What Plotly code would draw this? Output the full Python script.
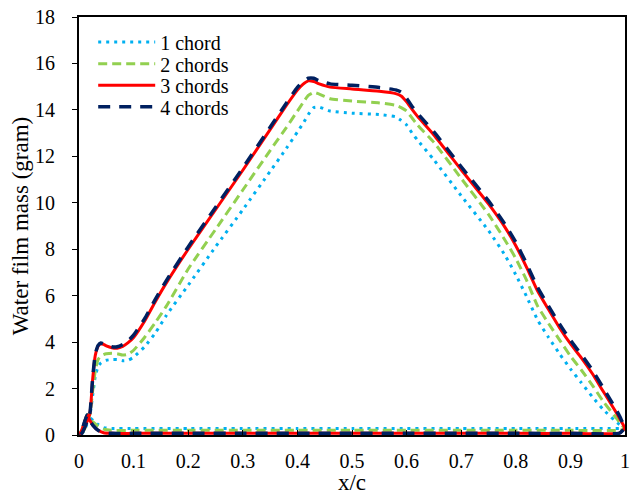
import plotly.graph_objects as go

# Shared chordwise stations for the upper branch of each loop
upper_x = [0, 0.005, 0.01, 0.015, 0.02, 0.025, 0.03, 0.035, 0.04, 0.045, 0.05, 0.06, 0.07, 0.08,
           0.09, 0.1, 0.12, 0.14, 0.16, 0.2, 0.25, 0.3, 0.35, 0.38, 0.4, 0.41, 0.42, 0.43, 0.44,
           0.46, 0.5, 0.55, 0.58, 0.59, 0.6, 0.61, 0.62, 0.65, 0.7, 0.75, 0.78, 0.8, 0.82, 0.84,
           0.86, 0.88, 0.9, 0.92, 0.94, 0.96, 0.98, 0.99, 1.0]

# Return branch (trailing edge back to leading edge)
lower_x = [1.0, 0.99, 0.9, 0.8, 0.7, 0.6, 0.5, 0.4, 0.3, 0.2, 0.1, 0.06, 0.045, 0.035, 0.026, 0.02,
           0.015, 0.01, 0.005, 0.0]

upper_1 = [0, 0.05, 0.2, 0.5, 0.85, 1.7, 2.55, 2.95, 3.1, 3.18, 3.22, 3.25, 3.25, 3.2,
           3.22, 3.35, 3.8, 4.4, 5.15, 6.45, 8.1, 9.7, 11.35, 12.35, 13.05, 13.4, 13.8, 14.1, 14.12,
           13.95, 13.86, 13.8, 13.7, 13.55, 13.35, 13.0, 12.7, 11.85, 10.3, 8.8, 7.75, 6.9, 5.95, 4.95,
           4.2, 3.5, 2.85, 2.25, 1.65, 1.1, 0.65, 0.45, 0.3]
lower_1 = [0.3, 0.28, 0.28, 0.28, 0.28, 0.28, 0.28, 0.28, 0.28, 0.28, 0.28, 0.28, 0.32, 0.45, 0.62,
           0.75, 0.88, 0.55, 0.2, 0.0]

upper_2 = [0, 0.05, 0.25, 0.55, 0.9, 1.9, 2.8, 3.25, 3.4, 3.46, 3.5, 3.52, 3.5, 3.44,
           3.48, 3.65, 4.2, 4.85, 5.55, 7.15, 8.85, 10.55, 12.25, 13.25, 13.95, 14.3, 14.62, 14.75, 14.68,
           14.48, 14.38, 14.3, 14.2, 14.1, 13.95, 13.65, 13.35, 12.6, 11.05, 9.5, 8.4, 7.6, 6.65, 5.55,
           4.8, 4.1, 3.4, 2.8, 2.15, 1.45, 0.85, 0.55, 0.25]
lower_2 = [0.25, 0.2, 0.2, 0.2, 0.2, 0.2, 0.2, 0.2, 0.2, 0.2, 0.2, 0.2, 0.25, 0.38, 0.55,
           0.7, 0.87, 0.55, 0.2, 0.0]

upper_3 = [0, 0.07, 0.3, 0.6, 0.93, 2.4, 3.45, 3.82, 3.93, 3.9, 3.84, 3.76, 3.74, 3.82,
           3.98, 4.2, 4.9, 5.75, 6.55, 8.0, 9.7, 11.4, 13.15, 14.2, 14.85, 15.1, 15.25, 15.22, 15.12,
           14.98, 14.9, 14.8, 14.7, 14.6, 14.35, 14.02, 13.72, 12.92, 11.42, 9.95, 8.95, 8.15, 7.21, 6.2,
           5.4, 4.62, 3.93, 3.32, 2.65, 1.88, 1.12, 0.72, 0.3]
lower_3 = [0.3, 0.08, 0.07, 0.07, 0.07, 0.07, 0.07, 0.07, 0.07, 0.07, 0.07, 0.07, 0.1, 0.2, 0.4,
           0.62, 0.86, 0.55, 0.2, 0.0]

upper_4 = [0, 0.07, 0.3, 0.6, 0.95, 2.45, 3.5, 3.86, 3.96, 3.92, 3.86, 3.8, 3.8, 3.9,
           4.06, 4.3, 5.0, 5.85, 6.65, 8.1, 9.8, 11.5, 13.25, 14.3, 14.97, 15.22, 15.36, 15.36, 15.25,
           15.12, 15.06, 14.96, 14.86, 14.76, 14.5, 14.15, 13.85, 13.05, 11.55, 10.08, 9.08, 8.3, 7.36, 6.35,
           5.55, 4.78, 4.08, 3.46, 2.8, 2.03, 1.25, 0.82, 0.3]
lower_4 = [0.3, 0.08, 0.07, 0.07, 0.07, 0.07, 0.07, 0.07, 0.07, 0.07, 0.07, 0.07, 0.1, 0.2, 0.4,
           0.62, 0.86, 0.55, 0.2, 0.0]

series_names = ["1 chord", "2 chords", "3 chords", "4 chords"]
series_upper = [upper_1, upper_2, upper_3, upper_4]
series_lower = [lower_1, lower_2, lower_3, lower_4]
colors = ["#00B0F0", "#92D050", "#FF0000", "#002060"]
dashes = ["3px,5px", "9px,5px", "solid", "12px,9px"]
widths = [3, 3, 3, 3.5]

x_ticks = [0, 0.1, 0.2, 0.3, 0.4, 0.5, 0.6, 0.7, 0.8, 0.9, 1]
x_tick_text = ["0", "0.1", "0.2", "0.3", "0.4", "0.5", "0.6", "0.7", "0.8", "0.9", "1"]
y_ticks = [0, 2, 4, 6, 8, 10, 12, 14, 16, 18]

font_family = "Liberation Serif"
tick_font = dict(family=font_family, size=20, color="black")
title_font = dict(family=font_family, size=23, color="black")

# one compact legend box per series so the rows sit tightly stacked
legend_ids = ["legend", "legend2", "legend3", "legend4"]
legend_rows = [0.940, 0.888, 0.837, 0.785]

fig = go.Figure()
for name, up, lo, c, d, w, lid in zip(series_names, series_upper, series_lower, colors, dashes,
                                      widths, legend_ids):
    fig.add_trace(go.Scatter(
        x=upper_x + lower_x,
        y=up + lo,
        mode="lines",
        name=name,
        legend=lid,
        line=dict(color=c, dash=d, width=w, shape="spline", smoothing=0.5),
    ))

layout_legends = {
    lid: dict(
        x=0.026, y=row, xanchor="left", yanchor="middle",
        bgcolor="rgba(0,0,0,0)", itemwidth=57,
        font=dict(family=font_family, size=20, color="black"),
    )
    for lid, row in zip(legend_ids, legend_rows)
}

fig.update_layout(
    template="none",
    showlegend=True,
    width=637,
    height=495,
    margin=dict(l=79, r=12, t=17, b=60),
    paper_bgcolor="white",
    plot_bgcolor="white",
    font=dict(family=font_family, size=20, color="black"),
    xaxis=dict(
        range=[0, 1], tickvals=x_ticks, ticktext=x_tick_text, tickfont=tick_font,
        ticks="inside", ticklen=5, tickcolor="black", tickwidth=1,
        ticklabelstandoff=7,
        showline=True, linecolor="black", linewidth=2, mirror=True,
        showgrid=False, zeroline=False,
        title=dict(text="x/c", standoff=2, font=title_font),
    ),
    yaxis=dict(
        range=[0, 18], tickvals=y_ticks, tickfont=tick_font,
        ticks="outside", ticklen=5, tickcolor="black", tickwidth=1,
        ticklabelstandoff=13,
        showline=True, linecolor="black", linewidth=2, mirror=True,
        showgrid=False, zeroline=False,
        title=dict(text="Water film mass (gram)", standoff=0, font=title_font),
    ),
    **layout_legends,
)

fig.write_html("out.html")
